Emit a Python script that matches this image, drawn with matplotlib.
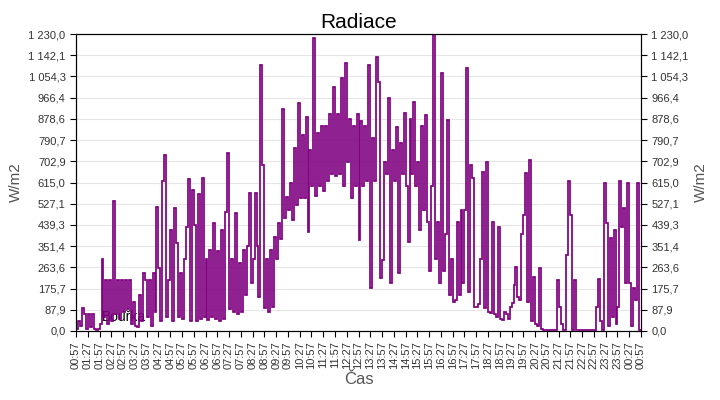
import matplotlib
matplotlib.use("Agg")
import matplotlib.pyplot as plt
import numpy as np

plt.rcParams['font.family'] = ['Liberation Sans', 'DejaVu Sans']

# time labels every 30 minutes
tick_labels = ["00:57", "01:27", "01:57", "02:27", "02:57", "03:27", "03:57", "04:27",
               "04:57", "05:27", "05:57", "06:27", "06:57", "07:27", "07:57", "08:27",
               "08:57", "09:27", "09:57", "10:27", "10:57", "11:27", "11:57", "12:27",
               "12:57", "13:27", "13:57", "14:27", "14:57", "15:27", "15:57", "16:27",
               "16:57", "17:27", "17:57", "18:27", "18:57", "19:27", "19:57", "20:27",
               "20:57", "21:27", "21:57", "22:27", "22:57", "23:27", "23:57", "00:27",
               "00:57"]

# radiation values, 5-minute samples (W/m2), one row per half hour
radiation = [
    10, 40, 20, 96, 70, 10,
    70, 15, 70, 10, 5, 10,
    30, 300, 60, 210, 30, 210,
    40, 540, 70, 210, 50, 210,
    80, 210, 90, 210, 30, 120,
    20, 15, 150, 40, 240, 210,
    60, 210, 20, 240, 80, 515,
    260, 40, 622, 730, 60, 210,
    418, 40, 509, 364, 60, 240,
    50, 300, 430, 630, 40, 584,
    440, 40, 567, 50, 633, 60,
    300, 45, 335, 60, 447, 50,
    330, 40, 420, 50, 492, 736,
    90, 300, 80, 488, 70, 280,
    80, 335, 150, 350, 571, 200,
    300, 571, 350, 140, 1101, 687,
    95, 300, 80, 335, 100, 390,
    300, 447, 380, 919, 470, 555,
    500, 612, 460, 757, 520, 944,
    550, 811, 550, 886, 410, 750,
    600, 1213, 560, 820, 600, 850,
    580, 850, 620, 900, 650, 1010,
    640, 900, 650, 1047, 600, 1110,
    700, 880, 550, 850, 600, 900,
    377, 870, 600, 850, 620, 1101,
    178, 800, 620, 1134, 1031, 219,
    294, 700, 650, 964, 199, 750,
    620, 845, 240, 780, 650, 903,
    600, 368, 880, 650, 948, 600,
    700, 418, 850, 500, 894, 450,
    250, 600, 1230, 300, 450, 200,
    1068, 250, 400, 873, 150, 300,
    120, 128, 450, 150, 500, 200,
    500, 1089, 160, 687, 633, 99,
    99, 110, 300, 658, 95, 700,
    80, 75, 451, 70, 60, 430,
    50, 45, 80, 70, 50, 100,
    116, 190, 265, 140, 130, 400,
    480, 654, 120, 708, 40, 224,
    30, 20, 261, 10, 5, 5,
    5, 5, 5, 5, 5, 211,
    100, 30, 5, 5, 315, 621,
    480, 5, 211, 5, 5, 5,
    5, 5, 5, 5, 5, 5,
    5, 100, 215, 40, 5, 615,
    447, 20, 385, 60, 418, 30,
    100, 621, 430, 509, 200, 615,
    200, 20, 180, 130, 615, 5,
    5,
]

sample_step = 5  # minutes
minutes = np.arange(len(radiation)) * sample_step
tick_pos = np.arange(len(tick_labels)) * 30

y_max = 1230.0
y_ticks = np.linspace(0, y_max, 15)


def fmt(v):
    s = f"{v:,.1f}"
    return s.replace(",", " ").replace(".", ",")


fig = plt.figure(figsize=(7.2, 4.0), dpi=100)
ax = fig.add_axes([0.1056, 0.1725, 0.7847, 0.7425])

ax.plot(minutes, radiation, color="#800080", lw=1.25, drawstyle="steps-post",
        solid_joinstyle="miter", zorder=3)
ax.text(0.045, 0.035, "Bouřka", transform=ax.transAxes, fontsize=10, color="black", zorder=2)

ax.set_xlim(0, 1440)
ax.set_ylim(0, y_max)
ax.set_yticks(y_ticks)
ax.set_yticklabels([fmt(v) for v in y_ticks], fontsize=8, color="#333333")
ax.set_xticks(tick_pos)
ax.set_xticklabels(tick_labels, rotation=90, fontsize=8, color="#333333")
ax.grid(axis="y", color="#e6e6e6", lw=0.8, zorder=0)
ax.tick_params(axis="both", length=4, width=0.8, color="black")

ax2 = ax.twinx()
ax2.set_ylim(0, y_max)
ax2.set_yticks(y_ticks)
ax2.set_yticklabels([fmt(v) for v in y_ticks], fontsize=8, color="#333333")
ax2.tick_params(axis="y", length=4, width=0.8)
ax2.set_ylabel("W/m2", fontsize=11, color="#555555", labelpad=4)

ax.set_ylabel("W/m2", fontsize=11, color="#555555", labelpad=4)
ax.set_xlabel("Čas", fontsize=12, color="#555555", labelpad=2)
ax.set_title("Radiace", fontsize=15, pad=4)

fig.savefig("out.png", dpi=100)
